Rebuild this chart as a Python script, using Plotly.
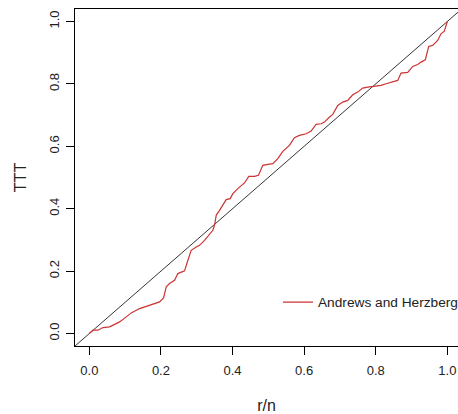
import plotly.graph_objects as go

# TTT plot data (r/n, TTT)
r_n = [0.0, 0.0101, 0.0241, 0.0381, 0.0567, 0.0706, 0.0846, 0.1032, 0.1171, 0.1404,
       0.1543, 0.1683, 0.1823, 0.1962, 0.2074, 0.2148, 0.2241, 0.2381, 0.2474, 0.2567,
       0.2660, 0.2753, 0.2846, 0.2985, 0.3078, 0.3218, 0.3358, 0.3450, 0.3497, 0.3544,
       0.3637, 0.3730, 0.3823, 0.3935, 0.4009, 0.4148, 0.4334, 0.4455, 0.4613, 0.4725,
       0.4846, 0.4985, 0.5125, 0.5265, 0.5404, 0.5590, 0.5730, 0.5869, 0.6056, 0.6195,
       0.6335, 0.6474, 0.6567, 0.6688, 0.6800, 0.6939, 0.7079, 0.7218, 0.7358, 0.7497,
       0.7637, 0.7777, 0.7963, 0.8149, 0.8288, 0.8428, 0.8614, 0.8707, 0.8893, 0.9033,
       0.9172, 0.9265, 0.9386, 0.9479, 0.9590, 0.9730, 0.9823, 0.9916, 1.0]
ttt = [0.0, 0.0106, 0.0106, 0.0191, 0.0213, 0.0298, 0.0373, 0.0533, 0.0661, 0.0800,
       0.0853, 0.0928, 0.0960, 0.1013, 0.1141, 0.1494, 0.1601, 0.1707, 0.1921, 0.1974,
       0.2006, 0.2347, 0.2667, 0.2774, 0.2827, 0.2987, 0.3202, 0.3308, 0.3468, 0.3788,
       0.3948, 0.4108, 0.4291, 0.4323, 0.4483, 0.4643, 0.4825, 0.5037, 0.5037, 0.5069,
       0.5389, 0.5421, 0.5443, 0.5603, 0.5837, 0.6029, 0.6275, 0.6350, 0.6403, 0.6488,
       0.6702, 0.6723, 0.6777, 0.6916, 0.7022, 0.7310, 0.7417, 0.7470, 0.7652, 0.7737,
       0.7865, 0.7897, 0.7919, 0.7951, 0.8005, 0.8058, 0.8111, 0.8346, 0.8367, 0.8559,
       0.8623, 0.8698, 0.8773, 0.9200, 0.9232, 0.9392, 0.9605, 0.9690, 1.0]

ref_x = [-0.04, 1.04]
ref_y = [-0.04, 1.04]

tick_vals = [0.0, 0.2, 0.4, 0.6, 0.8, 1.0]
tick_text = ["0.0", "0.2", "0.4", "0.6", "0.8", "1.0"]

series_name = "Andrews and Herzberg"

FONT = "Liberation Sans, Arial, sans-serif"

fig = go.Figure()
fig.add_trace(go.Scatter(x=ref_x, y=ref_y, mode="lines",
                         line=dict(color="black", width=0.8),
                         showlegend=False, hoverinfo="skip"))
fig.add_trace(go.Scatter(x=r_n, y=ttt, mode="lines", name=series_name,
                         line=dict(color="#cd3333", width=1.2)))

fig.update_layout(
    width=458, height=414,
    margin=dict(l=75, r=0, t=9, b=68, autoexpand=False),
    paper_bgcolor="white", plot_bgcolor="white",
    font=dict(family=FONT, size=13, color="#222"),
    showlegend=True,
    legend=dict(x=0.53, y=0.13, xanchor="left", yanchor="middle",
                bgcolor="rgba(0,0,0,0)", borderwidth=0,
                font=dict(family=FONT, size=13.7, color="#222")),
)
fig.update_xaxes(range=[-0.04, 1.0298], showgrid=False, zeroline=False, automargin=False,
                 showline=True, linecolor="black", linewidth=1, mirror=True,
                 ticks="outside", ticklen=8, tickcolor="black", tickwidth=1,
                 tickvals=tick_vals, ticktext=tick_text, ticklabelstandoff=4,
                 title=dict(text="r/n", standoff=24))
fig.update_yaxes(range=[-0.04, 1.04], showgrid=False, zeroline=False, automargin=False,
                 showline=True, linecolor="black", linewidth=1, mirror=False,
                 ticks="outside", ticklen=8, tickcolor="black", tickwidth=1,
                 tickvals=tick_vals, ticktext=tick_text, tickangle=-90,
                 ticklabelstandoff=2,
                 title=dict(text="TTT", standoff=16))

fig.write_html("out.html", config={"displayModeBar": False},
               post_script="document.body.style.margin='0';document.body.style.overflow='hidden';")
